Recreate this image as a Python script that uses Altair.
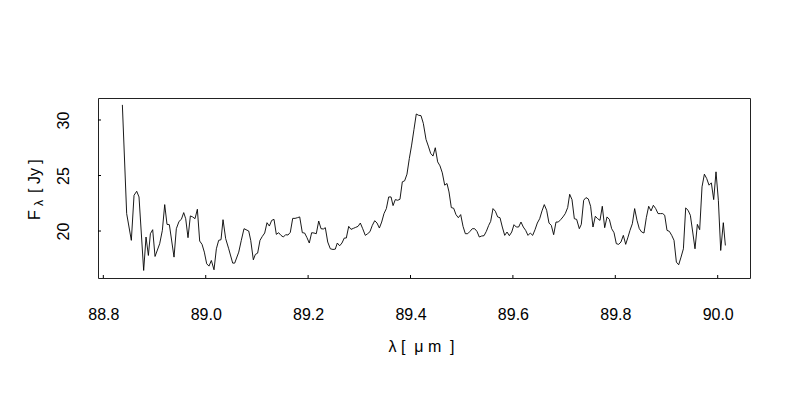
import altair as alt
import pandas as pd

# wavelength (micron)
lam = [
    88.8372, 88.8456, 88.8547, 88.8600, 88.8652, 88.8697, 88.8788, 88.8834, 88.8880, 88.8919,
    88.8964, 88.9010, 88.9101, 88.9153, 88.9199, 88.9244, 88.9290, 88.9381, 88.9426, 88.9479,
    88.9524, 88.9570, 88.9609, 88.9654, 88.9700, 88.9745, 88.9791, 88.9837, 88.9882, 88.9928,
    88.9973, 89.0019, 89.0064, 89.0110, 89.0162, 89.0208, 89.0253, 89.0299,
    89.0338, 89.0390, 89.0449, 89.0527, 89.0566, 89.0645, 89.0695, 89.0748, 89.0840, 89.0879,
    89.0930, 89.0969, 89.1014, 89.1060, 89.1106, 89.1152, 89.1197, 89.1243, 89.1289, 89.1334,
    89.1379, 89.1424, 89.1470, 89.1516, 89.1561, 89.1607, 89.1652, 89.1699, 89.1745, 89.1790,
    89.1836, 89.1887, 89.1932, 89.1978, 89.2023, 89.2069, 89.2115, 89.2160, 89.2207, 89.2252,
    89.2297, 89.2336, 89.2383, 89.2434, 89.2486, 89.2531, 89.2570, 89.2616, 89.2661, 89.2707,
    89.2746, 89.2793, 89.2838, 89.2884, 89.2929, 89.2975, 89.3020, 89.3066, 89.3117, 89.3163,
    89.3208, 89.3254, 89.3301, 89.3346, 89.3392, 89.3437, 89.3482, 89.3528, 89.3574, 89.3620,
    89.3659, 89.3703, 89.3749, 89.3794, 89.3840, 89.3885, 89.3931, 89.3977, 89.4022, 89.4068,
    89.4113, 89.4159, 89.4205, 89.4250, 89.4303, 89.4348, 89.4394, 89.4439, 89.4484, 89.4530,
    89.4576, 89.4621, 89.4668, 89.4713, 89.4752, 89.4797, 89.4843, 89.4888, 89.4934, 89.4980,
    89.5026, 89.5071, 89.5117, 89.5162, 89.5207, 89.5253, 89.5298, 89.5344, 89.5390, 89.5436,
    89.5481, 89.5527, 89.5566, 89.5611, 89.5657, 89.5702, 89.5748, 89.5793, 89.5840, 89.5885,
    89.5931, 89.5977, 89.6021, 89.6066, 89.6112, 89.6158, 89.6203, 89.6249, 89.6295, 89.6340,
    89.6386, 89.6432, 89.6477, 89.6523, 89.6568, 89.6613, 89.6659, 89.6705, 89.6750, 89.6796,
    89.6842, 89.6887, 89.6932, 89.6978, 89.7023, 89.7070, 89.7109, 89.7154, 89.7200, 89.7245,
    89.7297, 89.7336, 89.7382, 89.7427, 89.7473, 89.7518, 89.7564, 89.7610, 89.7655, 89.7701,
    89.7746, 89.7793, 89.7838, 89.7884, 89.7929, 89.7975, 89.8020, 89.8066, 89.8111, 89.8157,
    89.8203, 89.8248, 89.8287, 89.8333, 89.8378, 89.8424, 89.8469, 89.8515, 89.8560, 89.8606,
    89.8652, 89.8698, 89.8743, 89.8789, 89.8835, 89.8880, 89.8926, 89.8965, 89.9010, 89.9056,
    89.9102, 89.9147, 89.9193, 89.9238, 89.9284, 89.9330, 89.9375, 89.9421, 89.9466, 89.9512,
    89.9557, 89.9603, 89.9648, 89.9694, 89.9740, 89.9785, 89.9831, 89.9876, 89.9922, 89.9967,
    90.0013, 90.0059, 90.0110, 90.0150,
]

# flux density (Jy)
flux = [
    31.36, 21.57, 19.16, 23.22, 23.58, 23.07, 16.45, 19.46, 17.80, 19.76,
    20.12, 17.71, 18.86, 20.06, 22.38, 20.60, 20.57, 17.65, 20.21, 20.87,
    21.05, 21.66, 21.11, 19.40, 21.36, 21.27, 21.11, 21.96, 19.10, 18.80,
    18.10, 17.05, 16.84, 17.35, 16.51, 18.40, 19.16, 19.22,
    21.02, 19.31, 18.40, 17.11, 17.11, 18.10, 19.16, 20.21, 20.00, 19.16,
    17.41, 17.89, 18.01, 19.16, 19.52, 19.82, 20.75, 20.45, 20.96, 21.05,
    19.70, 19.85, 19.61, 19.46, 19.67, 19.64, 19.88, 21.14, 21.14, 21.20,
    21.27, 19.85, 19.82, 19.40, 18.92, 19.85, 19.82, 19.76, 20.90, 20.21,
    20.18, 20.30, 19.01, 18.40, 18.34, 18.37, 18.92, 18.67, 18.92, 19.37,
    19.37, 20.42, 20.15, 20.24, 20.33, 20.42, 20.72, 20.21, 19.61, 19.76,
    19.94, 20.51, 20.93, 20.72, 20.27, 20.81, 21.57, 22.02, 23.07, 23.07,
    22.29, 22.83, 22.77, 22.86, 24.43, 24.52, 25.12, 26.54, 27.74, 29.16,
    30.54, 30.42, 30.39, 29.70, 28.25, 27.65, 26.99, 26.75, 27.50, 26.23,
    25.87, 25.24, 24.13, 24.28, 23.52, 22.11, 22.05, 21.48, 21.20, 21.48,
    20.42, 19.76, 19.76, 19.97, 20.21, 20.21, 19.97, 19.46, 19.55, 19.58,
    19.97, 20.51, 20.87, 22.02, 21.78, 21.27, 21.20, 20.36, 19.61, 19.91,
    19.58, 19.91, 20.57, 20.36, 20.36, 20.81, 20.36, 20.06, 19.61, 19.82,
    19.61, 20.12, 20.72, 21.11, 21.81, 22.38, 21.87, 20.72, 20.51, 19.67,
    20.81, 20.81, 21.02, 21.27, 21.57, 22.11, 23.31, 22.83, 21.11, 21.05,
    20.21, 20.60, 22.77, 23.01, 22.89, 22.23, 20.36, 21.33, 21.11, 20.96,
    22.23, 20.30, 21.27, 21.05, 20.21, 19.85, 18.86, 18.80, 19.01, 19.61,
    18.80, 19.45, 20.06, 20.66, 22.02, 20.96, 20.21, 19.91, 19.82, 21.20,
    22.23, 21.81, 22.32, 22.02, 21.57, 21.57, 21.57, 21.42, 20.06, 19.97,
    19.61, 19.16, 17.20, 16.96, 17.65, 18.40, 22.08, 21.87, 21.42, 19.91,
    18.40, 20.60, 20.12, 23.98, 25.12, 24.73, 24.13, 24.34, 22.83, 25.33,
    22.77, 18.25, 20.75, 18.70,
]

x_ticks = [88.8, 89.0, 89.2, 89.4, 89.6, 89.8, 90.0]
y_ticks = [20, 25, 30]

FONT = "Liberation Sans"
W, H = 652, 180
xdom = [88.7896, 90.0631]
ydom = [15.77, 31.98]

NB = "\u00a0"
x_title = "λ" + NB + "[" + NB + NB + "μ" + NB + "m" + NB + NB + "]"

df = pd.DataFrame({"lam": lam, "flux": flux})
xs = alt.Scale(domain=xdom, nice=False, zero=False)
ys = alt.Scale(domain=ydom, nice=False, zero=False)

line = alt.Chart(df).mark_line(color="#000000", strokeWidth=0.9, clip=True).encode(
    x=alt.X("lam:Q", scale=xs,
            axis=alt.Axis(values=x_ticks, format=".1f", title=x_title, tickSize=0,
                          domain=False, grid=False, labelFont=FONT, labelFontSize=16,
                          labelColor="#000", labelPadding=28, titleFont=FONT,
                          titleFontSize=16, titleFontWeight="normal", titleColor="#000",
                          titlePadding=16, titleX=323)),
    y=alt.Y("flux:Q", scale=ys,
            axis=alt.Axis(values=y_ticks, title=None, tickSize=0, domain=False, grid=False,
                          labelFont=FONT, labelFontSize=16, labelColor="#000",
                          labelAngle=270, labelAlign="center", labelBaseline="bottom",
                          labelPadding=27)),
)

xt = alt.Chart(pd.DataFrame({"t": x_ticks})).mark_rule(color="#000", strokeWidth=1).encode(
    x=alt.X("t:Q", scale=xs), y=alt.value(H - 3), y2=alt.value(H)
)
yt = alt.Chart(pd.DataFrame({"t": y_ticks})).mark_rule(color="#000", strokeWidth=1).encode(
    y=alt.Y("t:Q", scale=ys), x=alt.value(0), x2=alt.value(3)
)

def label(txt, x, y, size):
    return alt.Chart(pd.DataFrame({"t": [txt]})).mark_text(
        angle=270, align="left", baseline="alphabetic", font=FONT, fontSize=size, color="#000"
    ).encode(text="t:N", x=alt.value(x), y=alt.value(y))

ytitle = (label("F", -58, 122, 16) + label("λ", -55, 108, 12)
          + label("[" + NB + "Jy" + NB + "]", -58, 95, 16))

chart = alt.layer(line, xt, yt, ytitle).properties(
    width=W, height=H,
    autosize=alt.AutoSizeParams(type="none"),
    padding={"left": 90, "top": 90, "right": 30, "bottom": 100},
).configure(background="white").configure_view(stroke="#222222", strokeWidth=1)

chart.save("out.html", embed_options={"renderer": "svg", "actions": False})
